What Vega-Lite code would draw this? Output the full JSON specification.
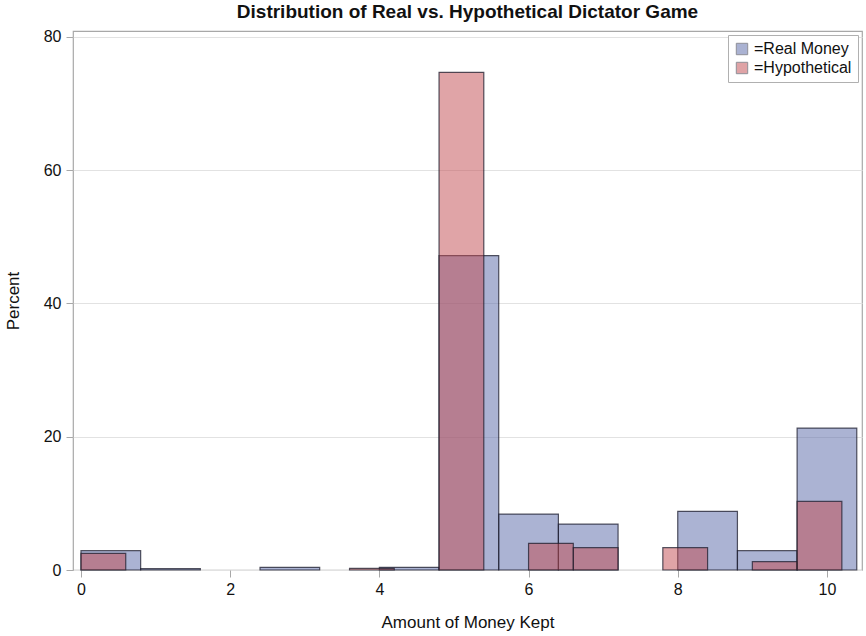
{
  "$schema": "https://vega.github.io/schema/vega-lite/v6.json",
  "autosize": "none",
  "width": 789,
  "height": 539,
  "padding": {"left": 73, "top": 31, "right": 4, "bottom": 66},
  "background": "white",
  "config": {
    "font": "Liberation Sans",
    "view": {"stroke": "#a8a8a8", "strokeWidth": 1.2}
  },
  "title": {
    "text": "Distribution of Real vs. Hypothetical Dictator Game",
    "fontSize": 19,
    "fontWeight": "bold",
    "color": "#111111",
    "anchor": "middle",
    "offset": 7
  },
  "data": {
    "values": [
      {"group": "=Real Money", "start": 0.0, "end": 0.8, "pct": 2.9},
      {"group": "=Real Money", "start": 0.8, "end": 1.6, "pct": 0.2},
      {"group": "=Real Money", "start": 2.4, "end": 3.2, "pct": 0.4},
      {"group": "=Real Money", "start": 4.0, "end": 4.8, "pct": 0.4},
      {"group": "=Real Money", "start": 4.8, "end": 5.6, "pct": 47.2},
      {"group": "=Real Money", "start": 5.6, "end": 6.4, "pct": 8.4},
      {"group": "=Real Money", "start": 6.4, "end": 7.2, "pct": 6.9},
      {"group": "=Real Money", "start": 8.0, "end": 8.8, "pct": 8.8},
      {"group": "=Real Money", "start": 8.8, "end": 9.6, "pct": 2.9},
      {"group": "=Real Money", "start": 9.6, "end": 10.4, "pct": 21.3},
      {"group": "=Hypothetical", "start": 0.0, "end": 0.6, "pct": 2.5},
      {"group": "=Hypothetical", "start": 3.6, "end": 4.2, "pct": 0.25},
      {"group": "=Hypothetical", "start": 4.8, "end": 5.4, "pct": 74.7},
      {"group": "=Hypothetical", "start": 6.0, "end": 6.6, "pct": 4.0},
      {"group": "=Hypothetical", "start": 6.6, "end": 7.2, "pct": 3.35},
      {"group": "=Hypothetical", "start": 7.8, "end": 8.4, "pct": 3.35},
      {"group": "=Hypothetical", "start": 9.0, "end": 9.6, "pct": 1.25},
      {"group": "=Hypothetical", "start": 9.6, "end": 10.2, "pct": 10.3}
    ]
  },
  "encoding": {
    "x": {
      "field": "start",
      "type": "quantitative",
      "scale": {"domain": [-0.107, 10.47], "nice": false, "zero": false},
      "axis": {
        "title": "Amount of Money Kept",
        "values": [0, 2, 4, 6, 8, 10],
        "grid": false,
        "domain": false,
        "tickColor": "#a8a8a8",
        "tickSize": 7,
        "labelFontSize": 16,
        "labelColor": "#111111",
        "labelPadding": 4,
        "titleFontSize": 17,
        "titleFontWeight": "normal",
        "titleColor": "#111111",
        "titlePadding": 17
      }
    },
    "x2": {"field": "end"},
    "y": {
      "field": "pct",
      "type": "quantitative",
      "scale": {"domain": [0, 80.9], "nice": false},
      "axis": {
        "title": "Percent",
        "values": [0, 20, 40, 60, 80],
        "grid": true,
        "gridColor": "#e2e2e2",
        "domain": false,
        "tickColor": "#a8a8a8",
        "tickSize": 7,
        "labelFontSize": 16,
        "labelColor": "#111111",
        "labelPadding": 5,
        "titleFontSize": 17,
        "titleFontWeight": "normal",
        "titleColor": "#111111",
        "titlePadding": 21
      }
    },
    "color": {
      "field": "group",
      "type": "nominal",
      "scale": {"domain": ["=Real Money", "=Hypothetical"], "range": ["#5767a7", "#c1494f"]},
      "sort": ["=Real Money", "=Hypothetical"],
      "legend": {
        "title": null,
        "orient": "top-right",
        "offset": 4,
        "strokeColor": "#b0b0b0",
        "padding": 6,
        "fillColor": "white",
        "symbolType": "square",
        "symbolSize": 130,
        "symbolOpacity": 0.5,
        "symbolStrokeColor": "#222233",
        "symbolStrokeWidth": 1,
        "labelFontSize": 16,
        "labelColor": "#111111",
        "rowPadding": 3
      }
    },
    "order": {"field": "group", "sort": "descending"}
  },
  "mark": {
    "type": "rect",
    "fillOpacity": 0.5,
    "stroke": "#1e1e2e",
    "strokeOpacity": 0.75,
    "strokeWidth": 1.2
  }
}
